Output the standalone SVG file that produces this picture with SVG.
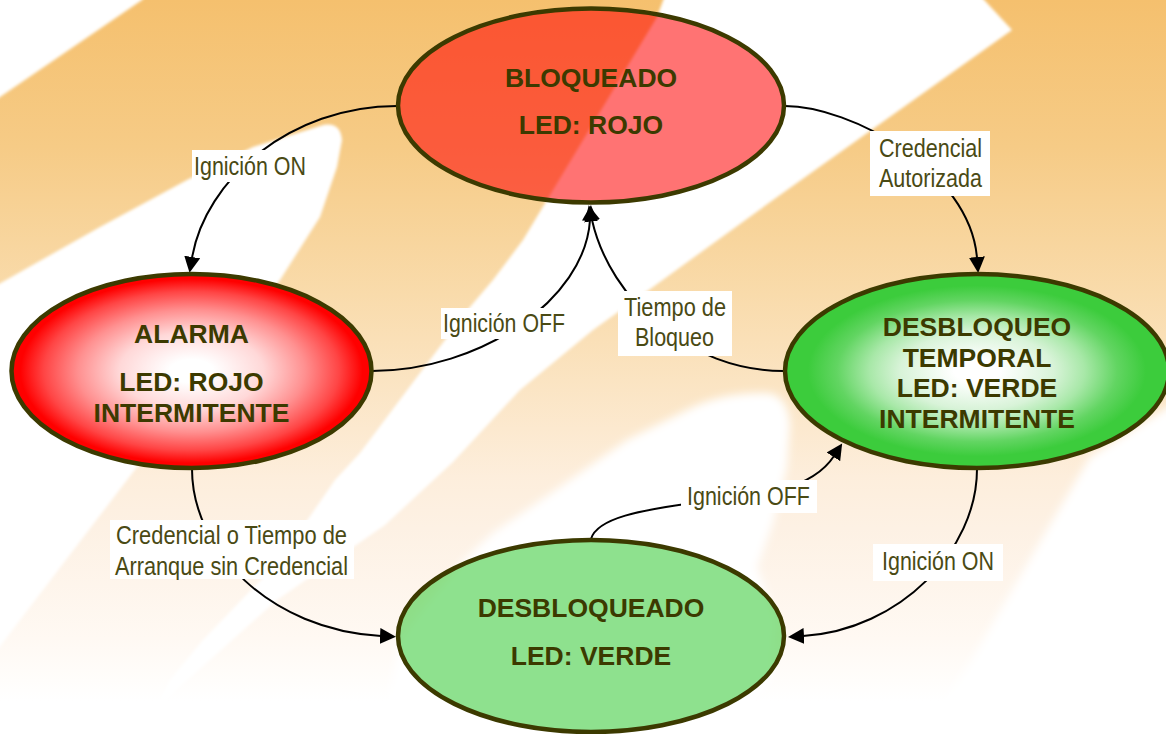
<svg xmlns="http://www.w3.org/2000/svg" width="1166" height="734" viewBox="0 0 1166 734">
<style>
.st{fill:none;stroke:#3c3a00;stroke-width:4.5}
.n{font-family:"Liberation Sans",Arial,sans-serif;font-weight:bold;font-size:26.5px;fill:#3c3a00;text-anchor:middle}
.l{font-family:"Liberation Sans",Arial,sans-serif;font-size:26px;fill:#4a4a14}
.c{fill:none;stroke:#000;stroke-width:2}
.b{fill:#fff}
</style>
<defs>
<linearGradient id="bg" x1="0" y1="0" x2="0" y2="1">
<stop offset="0" stop-color="#f5c06e"/>
<stop offset="0.2" stop-color="#f6cb86"/>
<stop offset="0.4" stop-color="#f9dbab"/>
<stop offset="0.65" stop-color="#fdeedc"/>
<stop offset="0.72" stop-color="#fdf1e4"/>
<stop offset="0.87" stop-color="#fff9f3"/>
<stop offset="0.955" stop-color="#fff"/>
</linearGradient>
<radialGradient id="red"><stop offset="0" stop-color="#fff"/><stop offset="0.12" stop-color="#fff"/><stop offset="0.4" stop-color="#ffd8d8"/><stop offset="0.63" stop-color="#ff9090"/><stop offset="0.82" stop-color="#ff4545"/><stop offset="0.95" stop-color="#f00"/><stop offset="1" stop-color="#f00"/></radialGradient>
<radialGradient id="green"><stop offset="0" stop-color="#fff"/><stop offset="0.12" stop-color="#fff"/><stop offset="0.4" stop-color="#d8f3d8"/><stop offset="0.56" stop-color="#a8e8a8"/><stop offset="0.73" stop-color="#62d562"/><stop offset="0.88" stop-color="#3ccc3c"/><stop offset="1" stop-color="#3ccc3c"/></radialGradient>
<filter id="soft" x="-5%" y="-5%" width="110%" height="110%"><feGaussianBlur stdDeviation="1.6"/></filter>
<filter id="softer" x="-5%" y="-5%" width="110%" height="110%"><feGaussianBlur stdDeviation="4"/></filter>
<marker id="arr" markerUnits="userSpaceOnUse" markerWidth="17" markerHeight="16" refX="1" refY="8" orient="auto"><path d="M0,0 L16,8 L0,16 Z" fill="#000"/></marker>
</defs>
<g id="background">
<rect width="1166" height="734" fill="url(#bg)"/>
<g fill="#fff" filter="url(#soft)">
<polygon points="-10,-10 150,-10 142,0 0,97 -10,104"/>
<path d="M-10,289 L100,227 L187,180 L253,147 L320,126 Q340,120 342,140 L337,167 L320,217 L280,280 L127,480 L20,620 L-10,660 Z"/>
<polygon points="667,-10 975,-10 1012,30 773,200 653,287 593,330 520,390 453,462 385,525 277,600 173,693 150,720 170,680 203,640 280,560 335,480 360,453 417,377 470,307 493,280 523,240 553,190 657,17"/>
</g>
<g fill="#fff" filter="url(#softer)">
<path d="M767,393 Q725,392 693,407 L627,440 L560,487 L493,533 Q440,580 400,640 L380,744 L720,744 L770,680 L776,620 L757,567 L773,523 L787,467 L790,425 Q788,395 767,393 Z"/>
<polygon points="1186,395 1090,457 1047,530 970,663 945,700 925,744 1186,744"/>
</g>
</g>
<g id="connectors">
<path class="c" marker-end="url(#arr)" d="M397,106 C290,106 205,180 192,258"/>
<path class="c" marker-end="url(#arr)" d="M785,106 C850,106 970,170 977,258"/>
<path class="c" marker-end="url(#arr)" d="M372,371 C480,371 585,300 590,220"/>
<path class="c" marker-end="url(#arr)" d="M783,371 C690,371 610,300 592,220"/>
<path class="c" marker-end="url(#arr)" d="M192,469 C192,550 270,630 381,636"/>
<path class="c" marker-end="url(#arr)" d="M977,469 C977,550 900,630 803,636"/>
<path class="c" marker-end="url(#arr)" d="M591,539 C597,518 640,510 700,502 C760,496 812,490 834,456"/>
<g id="connector-labels">
<rect class="b" x="192" y="150" width="115" height="32"/>
<text class="l" x="194" y="175" textLength="112" lengthAdjust="spacingAndGlyphs">Ignición ON</text>
<rect class="b" x="870" y="131" width="120" height="65"/>
<text class="l" x="879" y="157" textLength="103" lengthAdjust="spacingAndGlyphs">Credencial</text>
<text class="l" x="879" y="187" textLength="103" lengthAdjust="spacingAndGlyphs">Autorizada</text>
<rect class="b" x="441" y="308" width="126" height="31"/>
<text class="l" x="443" y="332" textLength="122" lengthAdjust="spacingAndGlyphs">Ignición OFF</text>
<rect class="b" x="618" y="291" width="114" height="65"/>
<text class="l" x="624" y="316" textLength="102" lengthAdjust="spacingAndGlyphs">Tiempo de</text>
<text class="l" x="635" y="346" textLength="79" lengthAdjust="spacingAndGlyphs">Bloqueo</text>
<rect class="b" x="681" y="480" width="136" height="33"/>
<text class="l" x="687" y="505" textLength="123" lengthAdjust="spacingAndGlyphs">Ignición OFF</text>
<rect class="b" x="873" y="544" width="130" height="37"/>
<text class="l" x="882" y="570" textLength="112" lengthAdjust="spacingAndGlyphs">Ignición ON</text>
<rect class="b" x="110" y="520" width="244" height="59"/>
<text class="l" x="116" y="544" textLength="231" lengthAdjust="spacingAndGlyphs">Credencial o Tiempo de</text>
<text class="l" x="115" y="575" textLength="233" lengthAdjust="spacingAndGlyphs">Arranque sin Credencial</text>
</g>
</g>
<g id="bloqueado">
<ellipse cx="591" cy="105.5" rx="193" ry="97" fill="#f00" fill-opacity="0.55"/>
<ellipse class="st" cx="591" cy="105.5" rx="193" ry="97"/>
<text class="n" x="591" y="87">BLOQUEADO</text>
<text class="n" x="591" y="134">LED: ROJO</text>
</g>
<g id="alarma">
<ellipse cx="191.5" cy="371" rx="180" ry="97" fill="url(#red)"/>
<ellipse class="st" cx="191.5" cy="371" rx="180" ry="97"/>
<text class="n" x="191.5" y="343">ALARMA</text>
<text class="n" x="191.5" y="391">LED: ROJO</text>
<text class="n" x="191.5" y="422">INTERMITENTE</text>
</g>
<g id="desbloqueo-temporal">
<ellipse cx="977" cy="371" rx="192" ry="97" fill="url(#green)"/>
<ellipse class="st" cx="977" cy="371" rx="192" ry="97"/>
<text class="n" x="977" y="336">DESBLOQUEO</text>
<text class="n" x="977" y="367">TEMPORAL</text>
<text class="n" x="977" y="397">LED: VERDE</text>
<text class="n" x="977" y="428">INTERMITENTE</text>
</g>
<g id="desbloqueado">
<ellipse cx="591" cy="636" rx="193" ry="96" fill="#3ccb3c" fill-opacity="0.58"/>
<ellipse class="st" cx="591" cy="636" rx="193" ry="96"/>
<text class="n" x="591" y="617">DESBLOQUEADO</text>
<text class="n" x="591" y="665">LED: VERDE</text>
</g>
</svg>
